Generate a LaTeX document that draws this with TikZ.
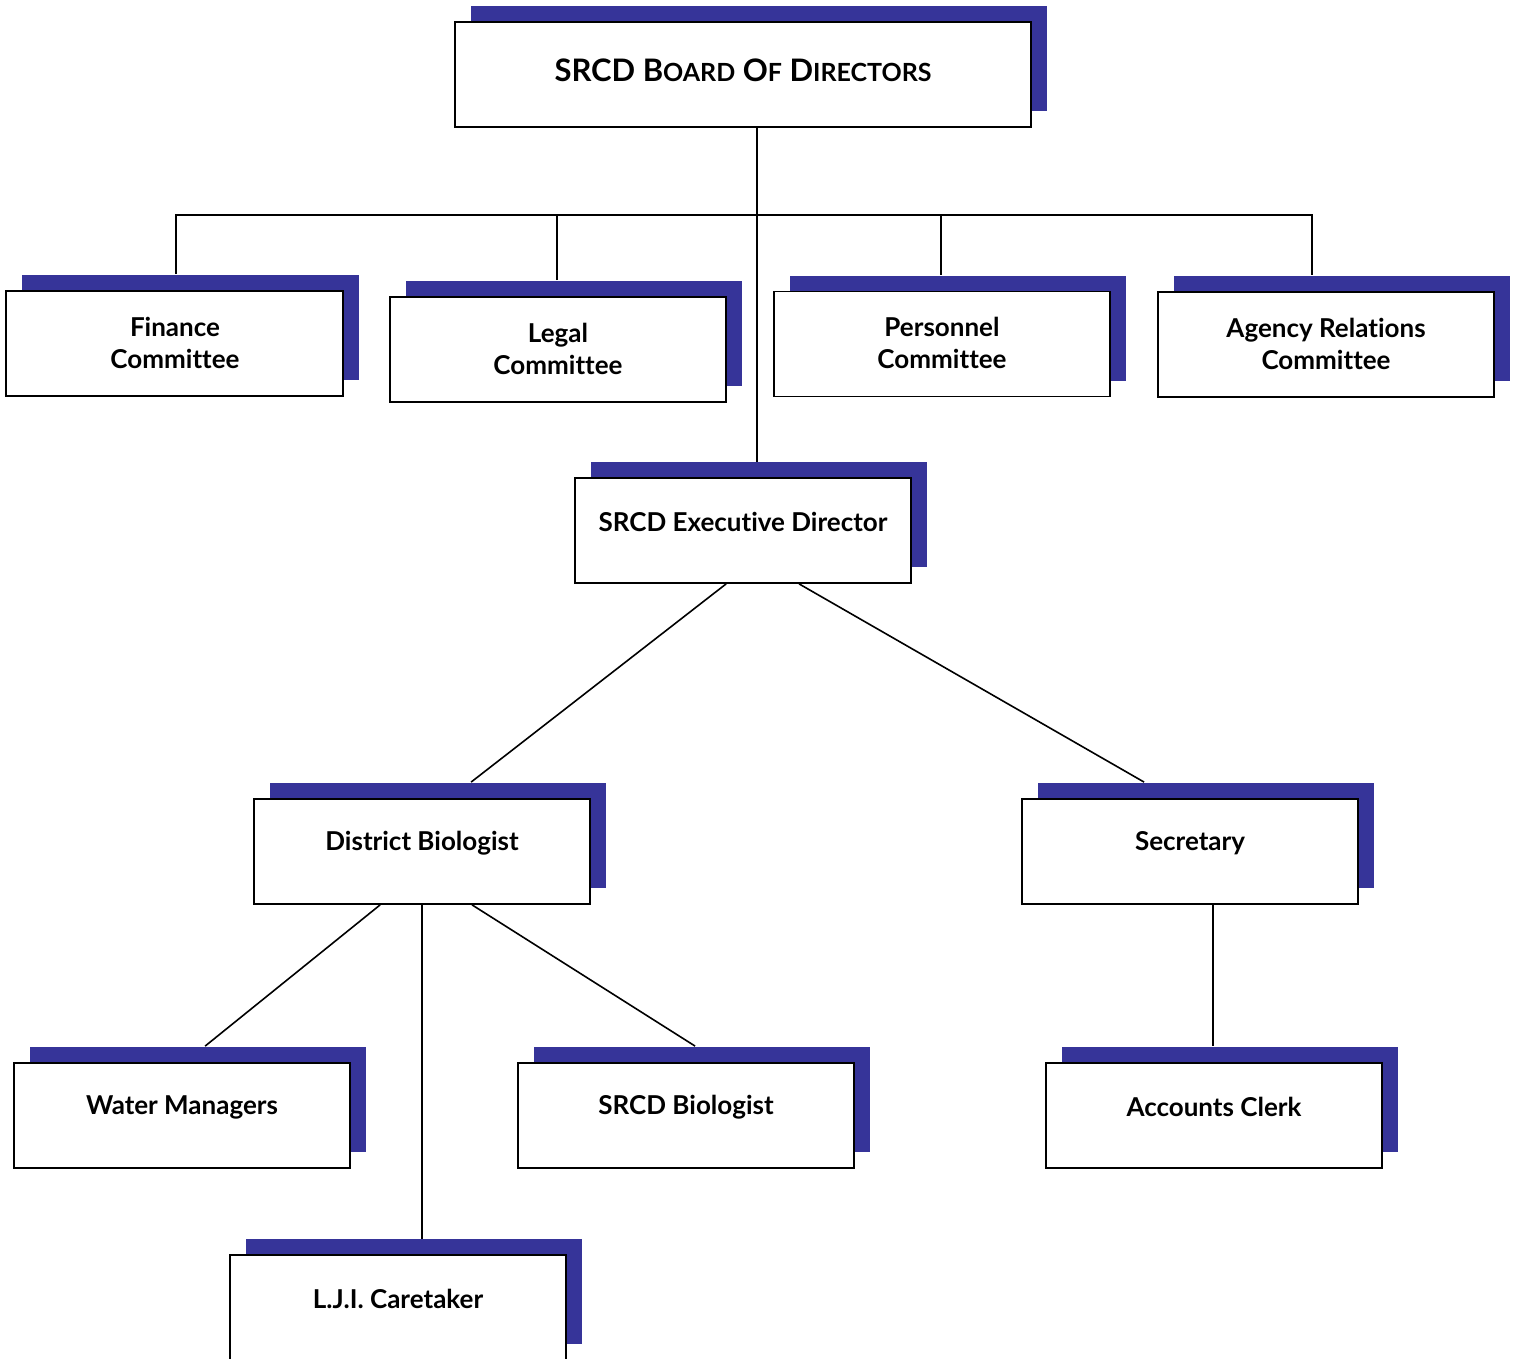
\documentclass[tikz,border=0pt]{standalone}
\usepackage{fontspec}
\setmainfont{Lato}[BoldFont={Lato Bold},Ligatures=NoCommon]
\usetikzlibrary{shadows,calc,backgrounds}
\definecolor{shadowblue}{RGB}{54,52,153}
\tikzset{
  orgbox/.style={draw=black, line width=1.8pt, fill=white, inner sep=0pt,
    minimum width=336pt, minimum height=105pt,
    general shadow={shadow xshift=16pt, shadow yshift=16pt, fill=shadowblue}},
  lbl/.style={font=\fontsize{26}{32}\selectfont\bfseries, align=center, inner sep=0pt},
  conn/.style={line width=1.6pt, draw=black}
}
\newcommand{\smc}[1]{{\fontsize{25}{25}\selectfont #1}}
\begin{document}
\begin{tikzpicture}[x=1pt,y=1pt]
\clip (0,0) rectangle (1517,-1359);
% boxes
\node[orgbox, minimum width=576pt] (board) at (743,-74.5) {};
\node[orgbox, minimum width=337pt] (fin) at (174.5,-343.5) {};
\node[orgbox] (legal) at (558,-349.5) {};
\node[orgbox] (pers) at (942,-344) {};
\node[orgbox] (agency) at (1326,-344.5) {};
\node[orgbox] (exec) at (743,-530.5) {};
\node[orgbox] (dist) at (422,-851.5) {};
\node[orgbox] (sec) at (1190,-851.5) {};
\node[orgbox] (water) at (182,-1115.5) {};
\node[orgbox] (sbio) at (686,-1115.5) {};
\node[orgbox] (acc) at (1214,-1115.5) {};
\node[orgbox] (lji) at (398,-1307.5) {};
% labels
\node[lbl, font=\fontsize{31}{31}\selectfont\bfseries] (board-t) at (743,-70) {SRCD B\smc{OARD} O\smc{F} D\smc{IRECTORS}};
\node[lbl] (fin-t) at (175,-343) {Finance\\Committee};
\node[lbl] (legal-t) at (558,-349) {Legal\\Committee};
\node[lbl] (pers-t) at (942,-343) {Personnel\\Committee};
\node[lbl] (agency-t) at (1326,-344) {Agency Relations\\Committee};
\node[lbl] (exec-t) at (743,-522) {SRCD Executive Director};
\node[lbl] (dist-t) at (422,-843) {District Biologist};
\node[lbl] (sec-t) at (1190,-843) {Secretary};
\node[lbl] (water-t) at (182,-1107) {Water Managers};
\node[lbl] (sbio-t) at (686,-1107) {SRCD Biologist};
\node[lbl] (acc-t) at (1214,-1107) {Accounts Clerk};
\node[lbl] (lji-t) at (398,-1299) {L.J.I. Caretaker};
% connector end points
\coordinate (hb) at (0,-215);
\coordinate (finT) at ($(fin.north west)+(171,16)$);
\coordinate (legalT) at ($(legal.north west)+(168,16)$);
\coordinate (persT) at ($(pers.north west)+(168,16)$);
\coordinate (agencyT) at ($(agency.north west)+(155,16)$);
\coordinate (boardB) at ($(board.south west)+(303,0)$);
\coordinate (secB) at ($(sec.south west)+(192,0)$);
\coordinate (accT) at ($(acc.north west)+(168,16)$);
% connectors
\begin{scope}[on background layer]
\draw[conn] (boardB) -- (boardB |- exec.north);
\draw[conn] (finT) |- (agencyT |- hb) -- (agencyT);
\draw[conn] (legalT) -- (legalT |- hb);
\draw[conn] (persT) -- (persT |- hb);
\draw[conn] ($(exec.south west)+(152,0)$) -- ($(dist.north west)+(218,16)$);
\draw[conn] ($(exec.south west)+(225,0)$) -- ($(sec.north west)+(123,16)$);
\draw[conn] ($(dist.south west)+(127,0)$) -- ($(water.north west)+(192,16)$);
\draw[conn] (dist.south) -- (dist.south |- lji.north);
\draw[conn] ($(dist.south west)+(219,0)$) -- ($(sbio.north west)+(178,16)$);
\draw[conn] (secB) -- (accT);
\end{scope}
\end{tikzpicture}
\end{document}
